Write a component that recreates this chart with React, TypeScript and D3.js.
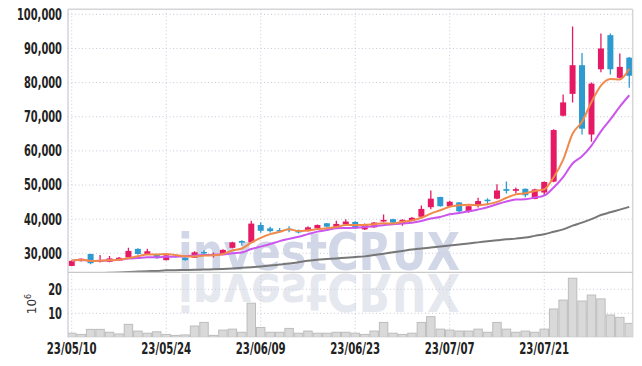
import React from "react";
import * as d3 from "d3";

const dates = [
  "23/05/10","23/05/11","23/05/12","23/05/15","23/05/16","23/05/17","23/05/18","23/05/19","23/05/22","23/05/23",
  "23/05/24","23/05/25","23/05/26","23/05/30","23/05/31","23/06/01","23/06/02","23/06/05","23/06/07","23/06/08",
  "23/06/09","23/06/12","23/06/13","23/06/14","23/06/15","23/06/16","23/06/19","23/06/20","23/06/21","23/06/22",
  "23/06/23","23/06/26","23/06/27","23/06/28","23/06/29","23/06/30","23/07/03","23/07/04","23/07/05","23/07/06",
  "23/07/07","23/07/10","23/07/11","23/07/12","23/07/13","23/07/14","23/07/17","23/07/18","23/07/19","23/07/20",
  "23/07/21","23/07/24","23/07/25","23/07/26","23/07/27","23/07/28","23/07/31","23/08/01","23/08/02","23/08/03",
];

const opens = [
  26300,27700,29800,27500,27500,27900,28800,31300,29800,29700,
  28000,29300,28700,28700,30400,29300,29700,31600,33600,33200,
  38300,37300,36800,37200,36800,36500,37300,38800,37500,38500,
  39200,37000,37600,39300,40000,38800,39600,40700,43500,46500,
  43800,44900,42100,43900,45700,46000,48800,48300,48900,45900,
  47800,51000,70300,76700,85100,64800,83900,93900,81400,87300,
];
const highs = [
  28000,28500,29900,29500,29200,28900,31600,31500,31300,29900,
  29600,29500,28800,30600,30900,30200,31200,33400,33800,39500,
  39100,37800,37400,37900,37000,37900,38400,38900,39500,40000,
  39400,38700,39200,41400,40100,40000,40600,44000,48400,46600,
  45400,45000,44000,46300,46100,50200,51000,49300,49000,48900,
  51000,66300,76500,96400,88700,80000,94400,94400,88500,87500,
];
const lows = [
  26200,27600,26800,27300,27400,27800,28600,29600,29700,28400,
  27900,28800,27800,28600,29500,28800,29600,31500,32200,33000,
  36000,36100,36100,36200,35800,36400,37100,37600,37400,38400,
  37100,36800,37500,39200,38900,38100,39500,40500,42900,43600,
  43600,42100,41900,43400,44100,45800,47500,47500,46400,45800,
  47100,50800,70100,74200,64800,62700,83000,82400,81200,78500,
];
const closes = [
  27800,28400,27100,28000,28500,28700,30700,29800,30600,28600,
  29400,29000,28000,30300,30000,29700,31000,33200,33100,38700,
  36600,36500,36500,36900,36100,37600,38300,37800,38600,39300,
  37300,38500,39000,39800,39000,39800,40400,43000,46000,43800,
  45100,42300,43800,45300,45500,48400,48300,48800,47000,48700,
  50900,66100,74200,85100,66500,79700,90000,83900,84600,82000,
];
// volume in millions of shares
const volumes = [
  1.7,1.2,3.3,3.3,2.1,1.4,5.4,2.6,1.7,2.3,
  1.2,0.8,1.0,4.7,6.2,0.8,3.0,3.4,2.1,14.2,
  4.1,2.1,2.1,3.7,1.7,2.6,1.7,1.7,2.1,2.1,
  1.7,1.2,2.6,6.2,1.7,1.2,1.7,6.2,8.6,3.4,
  3.0,2.6,2.6,3.4,2.1,6.2,3.4,2.1,2.6,2.1,
  3.4,11.8,15.5,24.6,15.1,17.6,16.0,9.3,8.3,5.8,
];
// long moving average (grey line)
const ma60 = [
  23900,24000,24100,24200,24300,24400,24550,24650,24750,24850,
  25000,25050,25100,25150,25250,25300,25400,25550,25750,25950,
  26150,26400,26700,27000,27400,27800,28100,28300,28500,28700,
  28900,29100,29500,29900,30300,30700,31100,31400,31700,32000,
  32300,32600,32900,33200,33500,33800,34100,34300,34600,35100,
  35600,36300,37000,38100,39000,40000,41200,42000,42800,43600,
];

const priceTicks = [30000, 40000, 50000, 60000, 70000, 80000, 90000, 100000];
const volTicks = [10, 20];
const dateTickIdx = [0, 10, 20, 30, 40, 50];

function movingAvg(arr: number[], n: number): number[] {
  return arr.map((_, i) => d3.mean(arr.slice(Math.max(0, i - n + 1), i + 1)) as number);
}

const W = 642, H = 366;
const L = 68, R = 632.7, T = 9.3, MID = 272.3, B = 337.3;
const STEP = 9.45, X0 = 67;

const UP = "#e61a64";
const DOWN = "#2e9bd0";
const FONT = "'DejaVu Sans Condensed', 'DejaVu Sans', sans-serif";

// narrow-font text width estimate for the axis labels
function labelLen(s: string): number {
  let w = 0;
  for (const ch of s) w += ch === "," ? 3.6 : ch === "/" ? 4.3 : 6.9;
  return w;
}

function Label(props: { x: number; y: number; anchor: "end" | "middle"; text: string; dy?: string }) {
  return (
    <text x={props.x} y={props.y} dy={props.dy} textAnchor={props.anchor} fontFamily={FONT}
      fontWeight="bold" fontSize={15} fill="#222" textLength={labelLen(props.text)}
      lengthAdjust="spacingAndGlyphs">{props.text}</text>
  );
}

export default function App() {
  const n = dates.length;
  const x = d3.scaleBand<number>().domain(d3.range(n)).range([X0, X0 + STEP * n]).padding(0);
  const cx = (i: number) => (x(i) as number) + x.bandwidth() / 2;
  const yP = d3.scaleLinear().domain([24435, 101470]).range([MID, T]);
  const yV = d3.scaleLinear().domain([0, 27.08]).range([B, MID]);

  const ma5 = movingAvg(closes, 5);
  const ma10 = movingAvg(closes, 10);
  const line = d3.line<number>().x((_, i) => cx(i)).y((d) => yP(d)).curve(d3.curveMonotoneX);

  const bodyW = 6;
  const fmt = d3.format(",");

  return (
    <svg width={W} height={H} style={{ position: "fixed", left: 0, top: 0, background: "#fff" }}>
      <defs>
        <clipPath id="pclip"><rect x={L} y={T} width={R - L} height={MID - T} /></clipPath>
        <clipPath id="vclip"><rect x={L} y={MID} width={R - L} height={B - MID} /></clipPath>
      </defs>

      {/* watermark */}
      <g clipPath="url(#vclip)">
        <text x={178} y={274} transform={`translate(0, ${2 * 274}) scale(1,-1)`} textLength={282}
          lengthAdjust="spacingAndGlyphs" fontFamily="'DejaVu Sans Condensed', 'DejaVu Sans'" fontWeight="bold"
          fontSize={51} fill="#e6e8ef">investCRUX</text>
      </g>
      <text x={178} y={270} textLength={282} lengthAdjust="spacingAndGlyphs"
        fontFamily="'DejaVu Sans Condensed', 'DejaVu Sans'" fontWeight="bold" fontSize={51} fill="#d1d7e7">investCRUX</text>

      {/* grid */}
      {priceTicks.map((v) => (
        <line key={"pg" + v} x1={L} x2={R} y1={yP(v)} y2={yP(v)} stroke="#c6cad8" strokeDasharray="1 2.5" />
      ))}
      {volTicks.map((v) => (
        <line key={"vg" + v} x1={L} x2={R} y1={yV(v)} y2={yV(v)} stroke="#c6cad8" strokeDasharray="1 2.5" />
      ))}
      {dateTickIdx.map((i) => (
        <line key={"xg" + i} x1={cx(i)} x2={cx(i)} y1={T} y2={B} stroke="#c6cad8" strokeDasharray="1 2.5" />
      ))}

      {/* volume bars */}
      <g clipPath="url(#vclip)">
        {volumes.map((v, i) => (
          <rect key={"v" + i} x={(x(i) as number) + 0.5} y={yV(v)} width={x.bandwidth() - 1} height={B - yV(v)}
            fill="#d9d9d9" stroke="#bdbdbd" strokeWidth={1} />
        ))}
      </g>

      {/* candles and lines */}
      <g clipPath="url(#pclip)">
        <path d={line(ma60) || ""} fill="none" stroke="#777" strokeWidth={2} />
        {closes.map((c, i) => {
          const o = opens[i];
          const col = c >= o ? UP : DOWN;
          const top = yP(Math.max(o, c));
          const bot = yP(Math.min(o, c));
          return (
            <g key={"c" + i}>
              <line x1={cx(i)} x2={cx(i)} y1={yP(highs[i])} y2={yP(lows[i])} stroke={col} strokeWidth={1.3} />
              <rect x={cx(i) - bodyW / 2} y={top} width={bodyW} height={Math.max(1.5, bot - top)} fill={col} />
            </g>
          );
        })}
        <path d={line(ma10) || ""} fill="none" stroke="#cc55ee" strokeWidth={2} />
        <path d={line(ma5) || ""} fill="none" stroke="#f08a4b" strokeWidth={2} />
      </g>

      {/* frame */}
      <line x1={L} x2={R} y1={T} y2={T} stroke="#d6d6d6" strokeWidth={1.5} />
      <line x1={R} x2={R} y1={T} y2={B} stroke="#d6d6d6" strokeWidth={1.5} />
      <line x1={L} x2={L} y1={T} y2={B} stroke="#c8cad4" strokeWidth={1.2} />
      <line x1={L} x2={R} y1={MID} y2={MID} stroke="#c8c8c8" strokeWidth={1.2} />

      {/* axis labels */}
      {priceTicks.map((v) => (
        <Label key={"pl" + v} x={62} y={yP(v)} dy="0.36em" anchor="end" text={fmt(v)} />
      ))}
      {volTicks.map((v) => (
        <Label key={"vl" + v} x={62} y={yV(v)} dy="0.36em" anchor="end" text={String(v)} />
      ))}
      {dateTickIdx.map((i) => (
        <Label key={"xl" + i} x={cx(i)} y={354} anchor="middle" text={dates[i]} />
      ))}
      <text transform="translate(36,304) rotate(-90)" textAnchor="middle" fontFamily="'DejaVu Sans'" fontSize={12} fill="#333">
        10<tspan dy={-5} fontSize={8}>6</tspan>
      </text>
    </svg>
  );
}
